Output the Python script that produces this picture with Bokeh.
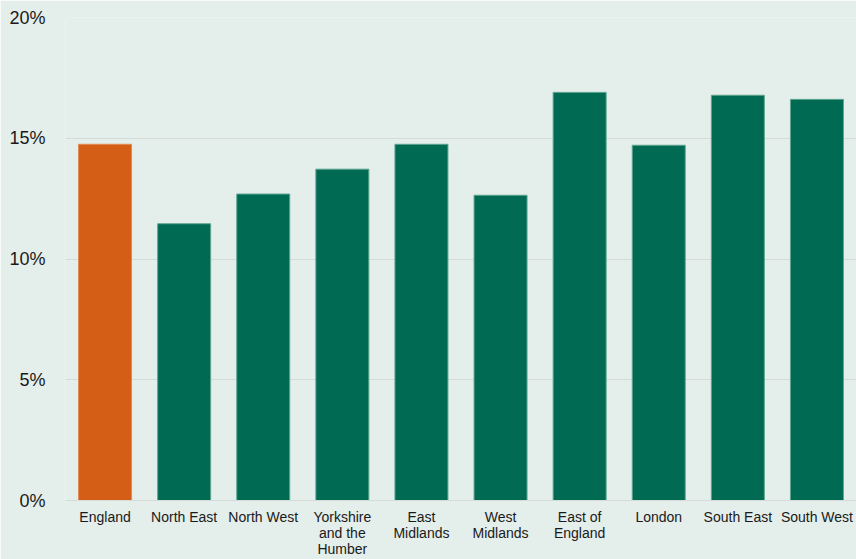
from bokeh.plotting import figure
from bokeh.models import ColumnDataSource, Range1d, FixedTicker, NumeralTickFormatter
from bokeh.embed import file_html
from bokeh.resources import INLINE

labels = ["England", "North East", "North West", "Yorkshire\nand the\nHumber",
          "East\nMidlands", "West\nMidlands", "East of\nEngland", "London",
          "South East", "South West"]
values = [0.1475, 0.1146, 0.1269, 0.1372, 0.1475, 0.1264, 0.1690, 0.1471, 0.1678, 0.1661]
colors = ["#D55E17"] + ["#006A53"] * 9
edges = ["#E08A55"] + ["#5FA690"] * 9

BG = "#E4EEEA"
src = ColumnDataSource(dict(x=labels, top=values, color=colors, edge=edges))

p = figure(x_range=labels, y_range=Range1d(0, 0.20), width=856, height=559,
           output_backend="svg", toolbar_location=None,
           background_fill_color=BG, border_fill_color=BG,
           min_border_left=65, min_border_right=0, min_border_top=17, min_border_bottom=58)
p.outline_line_color = None
p.vbar(x="x", top="top", width=0.67, source=src, fill_color="color",
       line_color="edge", line_width=1)

p.x_range.range_padding = 0
p.xgrid.grid_line_color = None
p.ygrid.grid_line_color = "#D6DAD8"
p.ygrid.grid_line_width = 1
p.yaxis.ticker = FixedTicker(ticks=[0, 0.05, 0.10, 0.15, 0.20])
p.yaxis.formatter = NumeralTickFormatter(format="0%")
p.yaxis.axis_line_color = None
p.yaxis.major_tick_line_color = None
p.yaxis.minor_tick_line_color = None
p.yaxis.major_label_text_font = "Liberation Sans"
p.yaxis.major_label_text_font_size = "18px"
p.yaxis.major_label_text_color = "#1A1A1A"
p.yaxis.major_label_standoff = 14

p.xaxis.axis_line_color = "#D6DAD8"
p.xaxis.major_tick_line_color = None
p.xaxis.minor_tick_line_color = None
p.xaxis.major_label_text_font = "Liberation Sans"
p.xaxis.major_label_text_font_size = "14px"
p.xaxis.major_label_text_color = "#1A1A1A"
p.xaxis.major_label_standoff = 2
p.xaxis.major_label_text_line_height = 1.0

html = file_html(p, INLINE)
html = html.replace("<body>", '<body style="background:%s">' % BG, 1)
open("out.html", "w").write(html)
